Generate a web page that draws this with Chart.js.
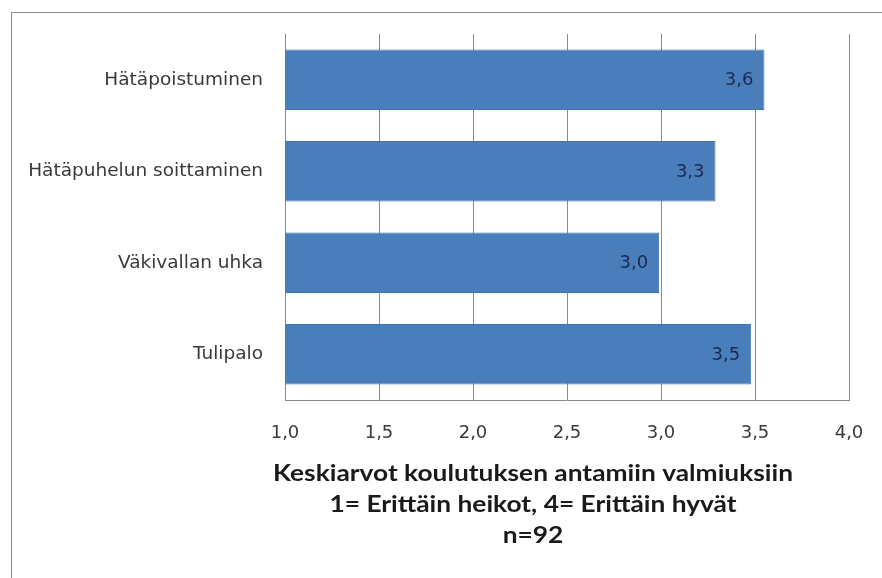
<!DOCTYPE html>
<html>
<head>
<meta charset="utf-8">
<script src="https://cdn.jsdelivr.net/npm/chart.js@4"></script>
<style>
  html, body { margin: 0; padding: 0; background: #fff; }
  #frame { position: absolute; left: 11px; top: 12px; width: 900px; height: 600px; border-left: 1px solid #8c8c8c; border-top: 1px solid #8c8c8c; }
  #graf { position: absolute; left: 0; top: 0; }
</style>
</head>
<body>
<div id="frame"></div>
<canvas id="graf" width="882" height="578"></canvas>
<script>
// valmiudet (keskiarvot)
const kategoriat = ['Hätäpoistuminen', 'Hätäpuhelun soittaminen', 'Väkivallan uhka', 'Tulipalo'];
const keskiarvot = [3.55, 3.29, 2.99, 3.48];
const otsikko = ['Keskiarvot koulutuksen antamiin valmiuksiin', '1= Erittäin heikot, 4= Erittäin hyvät', 'n=92'];

const pilkku = v => (v + 1e-9).toFixed(1).replace('.', ',');

// arvot palkkien sisään, oikeaan reunaan
const arvoPlugin = {
  id: 'arvot',
  afterDatasetsDraw(chart) {
    const ctx = chart.ctx;
    const meta = chart.getDatasetMeta(0);
    ctx.save();
    ctx.font = '18px "DejaVu Sans"';
    ctx.fillStyle = '#1b2a52';
    ctx.textAlign = 'right';
    ctx.textBaseline = 'middle';
    meta.data.forEach((bar, i) => {
      ctx.fillText(pilkku(keskiarvot[i]), bar.x - 11, bar.y + 1);
    });
    ctx.restore();
  }
};

// akselin otsikko, kolme riviä (alkuperäinen kuva on hieman venytetty leveyssuunnassa)
const otsikkoPlugin = {
  id: 'otsikko',
  afterDraw(chart) {
    const ctx = chart.ctx;
    ctx.save();
    ctx.font = 'bold 22px Lato';
    const venytys = 520 / ctx.measureText(otsikko[0]).width;
    ctx.fillStyle = '#1a1a1a';
    ctx.textAlign = 'center';
    ctx.textBaseline = 'alphabetic';
    ctx.translate(533, 0);
    ctx.scale(venytys, 1);
    otsikko.forEach((rivi, i) => {
      ctx.fillText(rivi, 0, 481 + i * 31);
    });
    ctx.restore();
  }
};

new Chart(document.getElementById('graf'), {
  type: 'bar',
  data: {
    labels: kategoriat,
    datasets: [{
      data: keskiarvot,
      backgroundColor: '#4a7ebb',
      borderColor: '#4275b0',
      borderWidth: 1,
      barPercentage: 0.66,
      categoryPercentage: 1,
    }]
  },
  options: {
    indexAxis: 'y',
    responsive: false,
    animation: false,
    layout: { padding: { top: 34, right: 33, left: 0, bottom: 0 } },
    plugins: {
      legend: { display: false },
      tooltip: { enabled: false },
    },
    scales: {
      x: {
        min: 1,
        max: 4,
        afterFit: scale => { scale.height = 178; },
        ticks: {
          stepSize: 0.5,
          padding: 10,
          color: '#3a3a3a',
          font: { family: 'DejaVu Sans', size: 18 },
          callback: v => pilkku(v),
        },
        grid: { color: '#8a8a8a', drawTicks: true, tickLength: 13, tickColor: 'rgba(0,0,0,0)' },
        border: { color: '#8a8a8a' },
      },
      y: {
        afterFit: scale => { scale.width = 285; },
        ticks: {
          padding: 22,
          color: '#3a3a3a',
          font: { family: 'DejaVu Sans', size: 18.5 },
        },
        grid: { display: false, drawTicks: false },
        border: { display: true, color: '#8a8a8a' },
      },
    },
  },
  plugins: [arvoPlugin, otsikkoPlugin]
});
</script>
</body>
</html>
